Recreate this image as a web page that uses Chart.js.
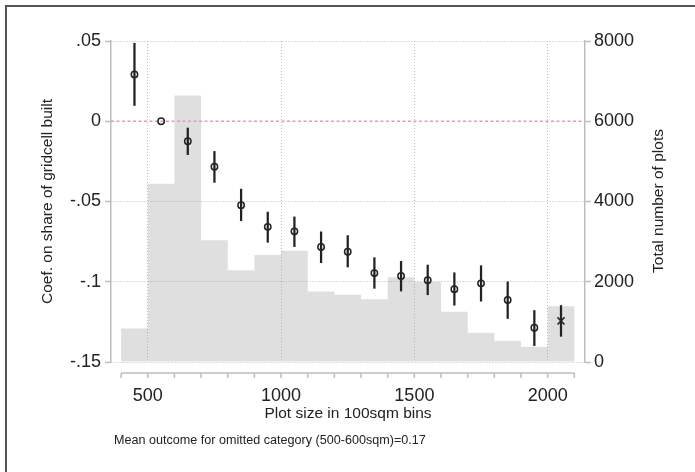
<!DOCTYPE html>
<html>
<head>
<meta charset="utf-8">
<script src="https://cdn.jsdelivr.net/npm/chart.js@4"></script>
<style>
  html, body { margin: 0; padding: 0; background: #fff; }
  #wrap { position: relative; width: 695px; height: 472px; overflow: hidden; font-family: "Liberation Sans", Arial, sans-serif; }
  #frame { position: absolute; left: 5px; top: 5px; width: 720px; height: 500px; border-left: 2px solid #555; border-top: 2px solid #555; pointer-events: none; }
  #rightTitle { position: absolute; left: 658px; top: 201px; transform: translate(-50%, -50%) rotate(-90deg); white-space: nowrap; font-size: 15.5px; color: #222; }
  #note { position: absolute; left: 114px; top: 433px; white-space: nowrap; font-size: 12.6px; color: #222; }
</style>
</head>
<body>
<div id="wrap">
  <canvas id="coefChart" width="695" height="472"></canvas>
  <div id="frame"></div>
  <div id="rightTitle">Total number of plots</div>
  <div id="note">Mean outcome for omitted category (500-600sqm)=0.17</div>
</div>
<script>
// bins (centre of each 100sqm bin)
const binCentres = [450, 550, 650, 750, 850, 950, 1050, 1150, 1250, 1350, 1450, 1550, 1650, 1750, 1850, 1950, 2050];
// number of plots per bin (right axis)
const plotCounts = [835, 4440, 6640, 3035, 2285, 2665, 2775, 1760, 1675, 1565, 2110, 2000, 1250, 725, 525, 375, 1390];
// coefficients and confidence intervals (left axis), 550 is the omitted category
const coefs = [0.0292, 0, -0.0125, -0.0283, -0.0523, -0.0658, -0.0686, -0.0783, -0.0813, -0.0946, -0.0964, -0.0991, -0.1046, -0.101, -0.1114, -0.1287, -0.1244];
const ciLow = [0.0098, null, -0.0208, -0.0381, -0.062, -0.0754, -0.0781, -0.0881, -0.0908, -0.1041, -0.1058, -0.1081, -0.1146, -0.1121, -0.1229, -0.1398, -0.134];
const ciHigh = [0.0486, null, -0.0042, -0.0188, -0.0423, -0.0566, -0.0596, -0.0689, -0.0712, -0.085, -0.0873, -0.0896, -0.0944, -0.09, -0.1, -0.1179, -0.1148];
const markerStyles = ['circle', 'circle', 'circle', 'circle', 'circle', 'circle', 'circle', 'circle', 'circle', 'circle', 'circle', 'circle', 'circle', 'circle', 'circle', 'circle', 'crossRot'];
const markerSizes = [3.2, 3.2, 3.2, 3.2, 3.2, 3.2, 3.2, 3.2, 3.2, 3.2, 3.2, 3.2, 3.2, 3.2, 3.2, 3.2, 5];

// axes
const xMin = 362, xMax = 2140;
const xMajorTicks = [500, 1000, 1500, 2000];
const xMinorTicks = [400, 500, 600, 700, 800, 900, 1000, 1100, 1200, 1300, 1400, 1500, 1600, 1700, 1800, 1900, 2000, 2100];
const yTicks = [-0.15, -0.1, -0.05, 0, 0.05];
const yTickLabels = ['-.15', '-.1', '-.05', '0', '.05'];
const y2Ticks = [0, 2000, 4000, 6000, 8000];
const y2TickLabels = ['0', '2000', '4000', '6000', '8000'];

const axisGrey = '#bdbdbd';
const gridGrey = '#bcbcbc';
const textCol = '#222';

// x axis line drawn a little below the plot region, like Stata
const xAxisLine = {
    id: 'xAxisLine',
    afterDraw(chart) {
        const ctx = chart.ctx;
        const xs = chart.scales.x;
        const y0 = chart.chartArea.bottom + 11;
        ctx.save();
        ctx.strokeStyle = axisGrey;
        ctx.lineWidth = 1.5;
        ctx.beginPath();
        ctx.moveTo(xs.getPixelForValue(xMinorTicks[0]), y0);
        ctx.lineTo(xs.getPixelForValue(xMinorTicks[xMinorTicks.length - 1]), y0);
        xMinorTicks.forEach(v => {
            const px = xs.getPixelForValue(v);
            ctx.moveTo(px, y0);
            ctx.lineTo(px, y0 + 5);
        });
        ctx.stroke();
        ctx.restore();
    }
};

const ctx = document.getElementById('coefChart').getContext('2d');
new Chart(ctx, {
    type: 'bar',
    data: {
        datasets: [
            {
                type: 'line',
                label: 'zero',
                data: [{x: xMin, y: 0}, {x: xMax, y: 0}],
                yAxisID: 'y',
                borderColor: '#e39ac0',
                borderWidth: 1.4,
                borderDash: [3, 2.5],
                pointRadius: 0,
                order: 3
            },
            {
                type: 'line',
                label: 'coef',
                data: binCentres.map((x, i) => ({x: x, y: coefs[i]})),
                yAxisID: 'y',
                showLine: false,
                pointStyle: markerStyles,
                pointRadius: markerSizes,
                borderColor: '#222',
                backgroundColor: 'rgba(0,0,0,0)',
                pointBorderWidth: 1.5,
                order: 1
            },
            {
                type: 'bar',
                label: 'ci',
                data: binCentres.map((x, i) => ({x: x, y: ciLow[i] === null ? null : [ciLow[i], ciHigh[i]]})),
                yAxisID: 'y',
                backgroundColor: '#222',
                barThickness: 1.6,
                grouped: false,
                order: 2
            },
            {
                type: 'bar',
                label: 'plots',
                data: binCentres.map((x, i) => ({x: x, y: plotCounts[i]})),
                yAxisID: 'y2',
                backgroundColor: 'rgba(150,150,150,0.3)',
                barPercentage: 1,
                categoryPercentage: 1,
                inflateAmount: 0,
                borderWidth: 0,
                grouped: false,
                order: 4
            }
        ]
    },
    options: {
        responsive: false,
        animation: false,
        layout: { padding: { top: 41, left: 0, right: 0, bottom: 0 } },
        plugins: {
            legend: { display: false },
            tooltip: { enabled: false }
        },
        scales: {
            x: {
                type: 'linear',
                min: xMin,
                max: xMax,
                offset: false,
                afterBuildTicks: s => { s.ticks = xMajorTicks.map(v => ({value: v})); },
                afterFit: s => { s.height = 110; },
                grid: { offset: false, color: gridGrey, lineWidth: 1, drawTicks: false },
                border: { display: false, dash: [1, 2] },
                ticks: {
                    padding: 23,
                    maxRotation: 0,
                    color: textCol,
                    font: { family: 'Liberation Sans', size: 18 },
                    callback: v => String(v)
                },
                title: {
                    display: true,
                    text: 'Plot size in 100sqm bins',
                    color: textCol,
                    font: { family: 'Liberation Sans', size: 15.5 },
                    padding: { top: 0, bottom: 49 }
                }
            },
            y: {
                type: 'linear',
                position: 'left',
                min: -0.15,
                max: 0.05,
                afterBuildTicks: s => { s.ticks = yTicks.map(v => ({value: v})); },
                afterFit: s => { s.width = 111; },
                grid: {
                    color: c => (c.tick && c.tick.value === 0 ? 'rgba(0,0,0,0)' : gridGrey),
                    lineWidth: 1,
                    drawTicks: true,
                    tickLength: 6,
                    tickColor: axisGrey,
                    tickWidth: 1.5
                },
                border: { display: true, color: axisGrey, width: 1.5, dash: [1, 2] },
                ticks: {
                    padding: 4,
                    color: textCol,
                    font: { family: 'Liberation Sans', size: 18 },
                    callback: (v, i) => yTickLabels[i]
                },
                title: {
                    display: true,
                    text: 'Coef. on share of gridcell built',
                    color: textCol,
                    font: { family: 'Liberation Sans', size: 15.5 },
                    padding: { top: 38, bottom: 0 }
                }
            },
            y2: {
                type: 'linear',
                position: 'right',
                min: 0,
                max: 8000,
                afterBuildTicks: s => { s.ticks = y2Ticks.map(v => ({value: v})); },
                afterFit: s => { s.width = 110; },
                grid: {
                    drawOnChartArea: false,
                    drawTicks: true,
                    tickLength: 6,
                    tickColor: axisGrey,
                    tickWidth: 1.5
                },
                border: { display: true, color: axisGrey, width: 1.5 },
                ticks: {
                    padding: 3,
                    color: textCol,
                    font: { family: 'Liberation Sans', size: 18 },
                    callback: (v, i) => y2TickLabels[i]
                }
            }
        }
    },
    plugins: [xAxisLine]
});
</script>
</body>
</html>
